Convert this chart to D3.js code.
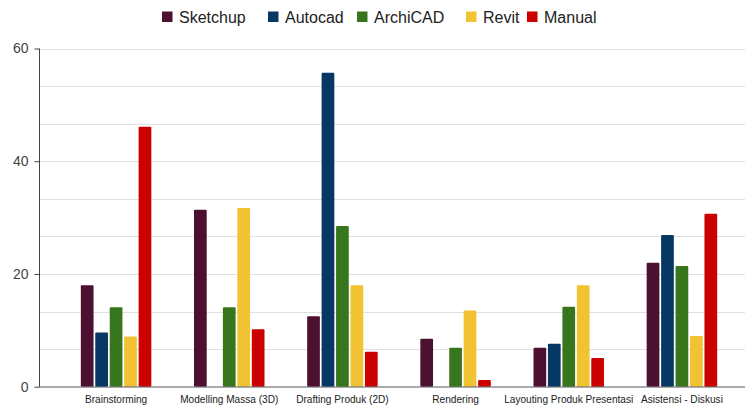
<!DOCTYPE html>
<html>
<head>
<meta charset="utf-8">
<script src="https://cdn.jsdelivr.net/npm/d3@7"></script>
<style>
  body { margin: 0; background: #fff; }
  svg { font-family: "Liberation Sans", Arial, sans-serif; }
</style>
</head>
<body>
<div id="chart"></div>
<script>
var categories = ["Brainstorming", "Modelling Massa (3D)", "Drafting Produk (2D)", "Rendering", "Layouting Produk Presentasi", "Asistensi - Diskusi"];
var seriesNames = ["Sketchup", "Autocad", "ArchiCAD", "Revit", "Manual"];
var sketchup = [18.0, 31.4, 12.5, 8.5, 6.9, 22.0];
var autocad  = [9.6, 0, 55.7, 0, 7.6, 26.9];
var archicad = [14.1, 14.1, 28.5, 6.9, 14.2, 21.4];
var revit    = [8.9, 31.7, 18.0, 13.5, 18.0, 9.0];
var manual   = [46.1, 10.2, 6.2, 1.2, 5.1, 30.7];
var colors = ["#4c1130", "#073763", "#38761d", "#f1c232", "#cc0000"];
var yTicks = [0, 20, 40, 60];

var values = [sketchup, autocad, archicad, revit, manual];
var width = 747, height = 407;
var plotLeft = 39, plotRight = 745, plotTop = 48.5, plotBottom = 386.7;

var svg = d3.select("#chart").append("svg")
  .attr("width", width)
  .attr("height", height);

var y = d3.scaleLinear().domain([0, 60]).range([plotBottom, plotTop]);

var x0 = d3.scaleBand().domain(categories).range([59.5, 738.5]);
var x1 = d3.scaleBand().domain(seriesNames)
  .range([0, 70.5]).paddingInner(0.12);

// gridlines (major + minor)
var grid = d3.range(0, 61, 20 / 3);
svg.append("g").selectAll("line")
  .data(grid.slice(1))
  .enter().append("line")
  .attr("x1", plotLeft).attr("x2", plotRight)
  .attr("y1", function (d) { return Math.round(y(d)) + 0.5; })
  .attr("y2", function (d) { return Math.round(y(d)) + 0.5; })
  .style("stroke", "#e0e0e0")
  .style("stroke-width", 1);

// bars
var groups = svg.append("g").selectAll("g")
  .data(categories)
  .enter().append("g")
  .attr("transform", function (d) {
    return "translate(" + (x0(d) + x0.bandwidth() / 2 - 35.25) + ",0)";
  });

groups.selectAll("rect")
  .data(function (d, i) {
    return seriesNames.map(function (s, j) { return { s: s, v: values[j][i], c: colors[j] }; });
  })
  .enter().append("rect")
  .filter(function (d) { return d.v > 0; })
  .attr("x", function (d) { return x1(d.s); })
  .attr("y", function (d) { return y(d.v); })
  .attr("width", x1.bandwidth())
  .attr("height", function (d) { return plotBottom - y(d.v); })
  .attr("rx", 1)
  .style("fill", function (d) { return d.c; });

// y axis
var yAxis = d3.axisLeft(y).tickValues(yTicks).tickSize(5).tickPadding(6);
var gy = svg.append("g")
  .attr("transform", "translate(" + (plotLeft + 0.5) + ",0)")
  .call(yAxis);
gy.select(".domain").attr("d", "M0," + plotTop + "V" + plotBottom).style("stroke", "#444");
gy.selectAll(".tick line").style("stroke", "#444");
gy.selectAll(".tick text")
  .style("font-size", "14px")
  .style("fill", "#444")
  .style("font-family", "'Liberation Sans', Arial, sans-serif");

// x axis baseline + labels
svg.append("line")
  .attr("x1", plotLeft).attr("x2", plotRight)
  .attr("y1", plotBottom + 0.3).attr("y2", plotBottom + 0.3)
  .style("stroke", "#555")
  .style("stroke-width", 1);

var xAxis = d3.axisBottom(x0).tickSize(0).tickPadding(9);
var gx = svg.append("g")
  .attr("transform", "translate(0," + plotBottom + ")")
  .call(xAxis);
gx.select(".domain").remove();
gx.selectAll(".tick text")
  .style("font-size", "10.1px")
  .style("fill", "#222")
  .style("font-family", "'Liberation Sans', Arial, sans-serif");

// legend
var legend = svg.append("g");
var legendX = [162, 268, 357, 466, 527];
seriesNames.forEach(function (s, i) {
  var item = legend.append("g").attr("transform", "translate(" + legendX[i] + ",0)");
  item.append("rect")
    .attr("x", 0).attr("y", 11.5)
    .attr("width", 10.5).attr("height", 10.5)
    .style("fill", colors[i]);
  item.append("text")
    .attr("x", 17)
    .attr("y", 22.5)
    .text(s)
    .style("font-size", "16px")
    .style("fill", "#222");
});
</script>
</body>
</html>
